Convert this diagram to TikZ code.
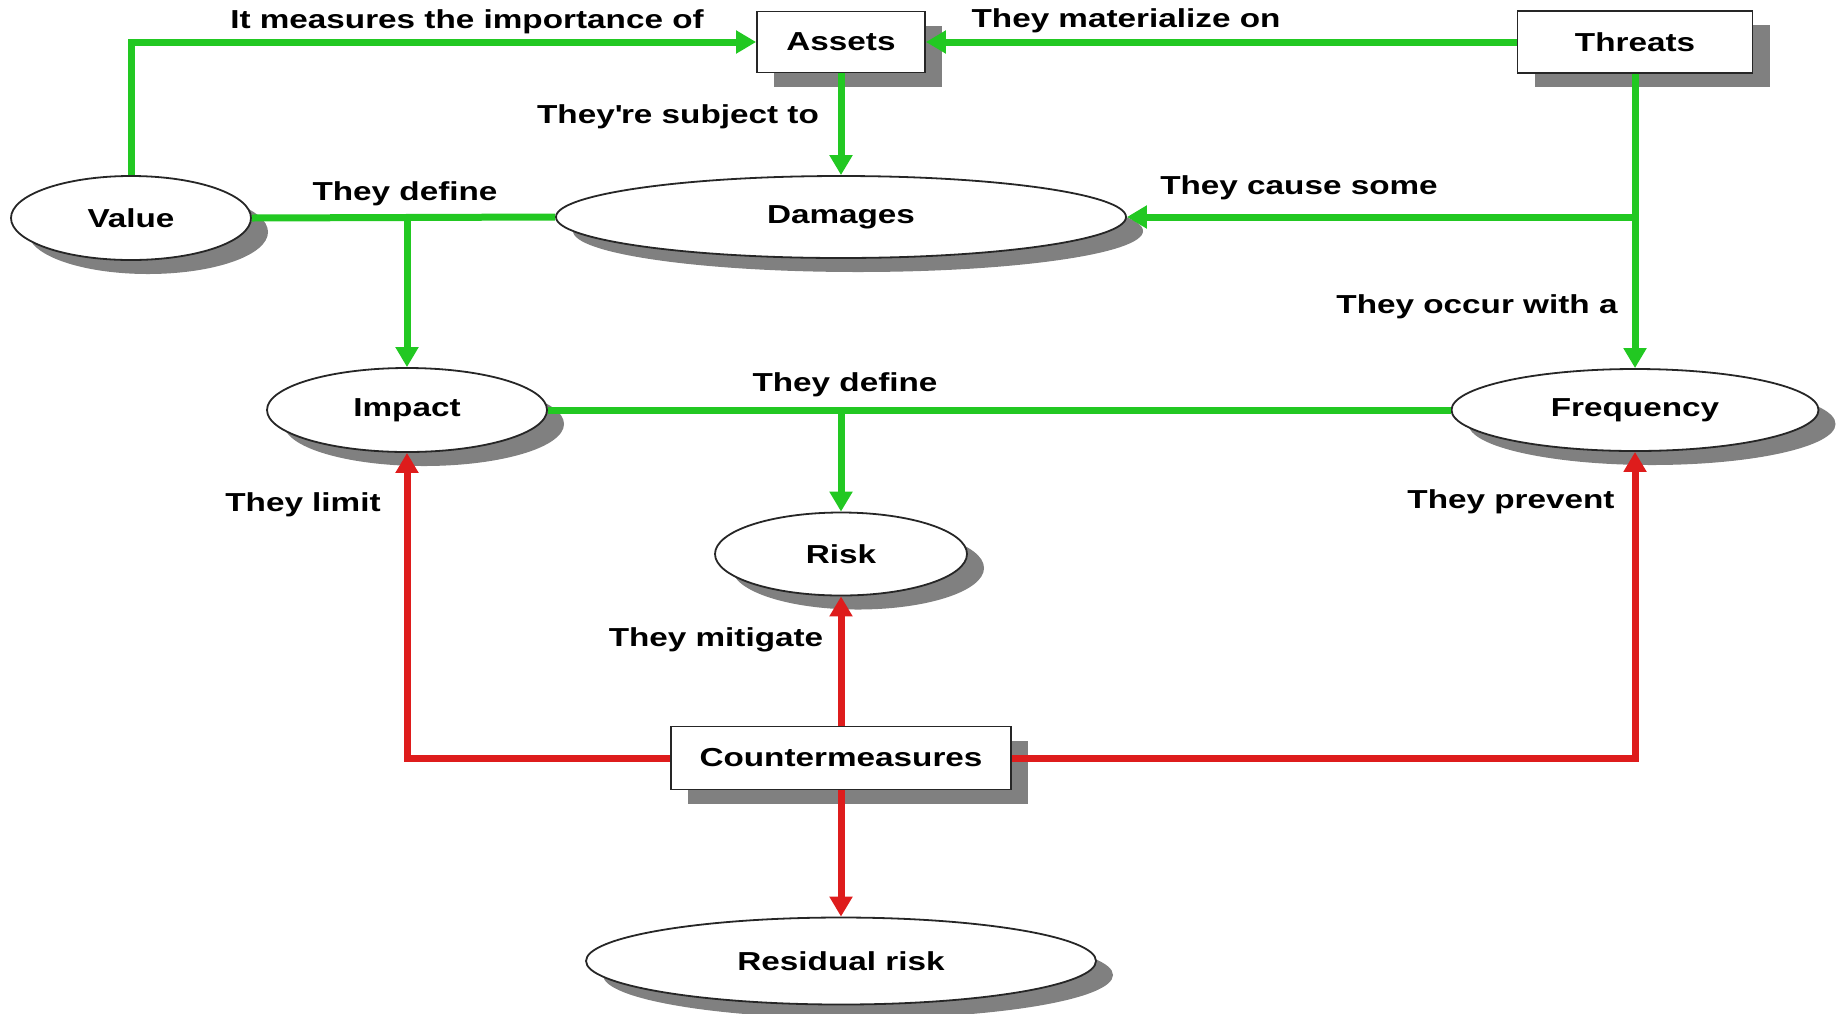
\documentclass[tikz,border=0pt]{standalone}
\usepackage{fontspec}
\setmainfont{Liberation Sans}[FakeStretch=1.28]
\usetikzlibrary{positioning, shapes.geometric, shadows, arrows.meta}
\definecolor{linkGreen}{RGB}{34,200,34}
\definecolor{linkRed}{RGB}{222,28,28}
\definecolor{shadowGray}{RGB}{128,128,128}
\tikzstyle{diagram} = [x = 0.5pt, y = -0.5pt]
\tikzstyle{labelFont} = [font=\bfseries\fontsize{13}{15}\selectfont]
\tikzstyle{shadowStyle} = [drop shadow={shadow xshift=8.5pt, shadow yshift=-7pt, fill=shadowGray, opacity=1}]
\tikzstyle{boxStyle} = [rectangle, draw=black!85, line width=0.9pt, fill=white, shadowStyle, labelFont, inner sep=0pt]
\tikzstyle{ovalStyle} = [ellipse, draw=black!85, line width=0.9pt, fill=white, shadowStyle, labelFont, inner sep=0pt]
\tikzstyle{linkText} = [labelFont, inner sep=0pt]
\tikzstyle{linkLine} = [line width=3.5pt]
\tikzstyle{greenLink} = [linkLine, color=linkGreen, -{Triangle[length=10pt, width=11pt]}]
\tikzstyle{greenJoin} = [linkLine, color=linkGreen]
\tikzstyle{redLink} = [linkLine, color=linkRed, -{Triangle[length=10pt, width=11pt]}]

\begin{document}
\begin{tikzpicture}[diagram]
  \useasboundingbox (0,0) rectangle (1839,1013);
  % concepts
  \node [boxStyle, minimum width=84pt, minimum height=30.5pt] (assets) at (841,42) {Assets};
  \node [boxStyle, minimum width=117.5pt, minimum height=31pt] (threats) at (1635,42) {Threats};
  \node [ovalStyle, minimum width=120pt, minimum height=42pt] (value) at (131,218) {Value};
  \node [ovalStyle, minimum width=285pt, minimum height=41pt] (damages) at (841,217) {Damages};
  \node [ovalStyle, minimum width=140pt, minimum height=42pt] (impact) at (407,410) {Impact};
  \node [ovalStyle, minimum width=183.5pt, minimum height=41pt] (frequency) at (1635,410) {Frequency};
  \node [ovalStyle, minimum width=126pt, minimum height=41.5pt] (risk) at (841,554) {Risk};
  \node [boxStyle, minimum width=170pt, minimum height=31.5pt] (counter) at (841,758) {Countermeasures};
  \node [ovalStyle, minimum width=255pt, minimum height=43.5pt] (residual) at (841,961) {Residual risk};
  % green links
  \draw [greenLink] (value.north) |- (assets.west);
  \draw [greenLink] (threats.west) -- (assets.east);
  \draw [greenLink] (assets.south) -- (damages.north);
  \draw [greenLink] (threats.south) -- (frequency.north);
  \coordinate (threatsJoin) at (threats.south |- damages.east);
  \draw [greenLink] (threatsJoin) -- (damages.east);
  \draw [greenJoin] (value.east) -- (damages.west);
  \coordinate (impactJoin) at (impact.north |- damages.west);
  \draw [greenLink] (impactJoin) -- (impact.north);
  \draw [greenJoin] (impact.east) -- (frequency.west);
  \coordinate (riskJoin) at (risk.north |- impact.east);
  \draw [greenLink] (riskJoin) -- (risk.north);
  % red links
  \draw [redLink] (counter.west) -| (impact.south);
  \draw [redLink] (counter.north) -- (risk.south);
  \draw [redLink] (counter.east) -| (frequency.south);
  \draw [redLink] (counter.south) -- (residual.north);
  % link texts
  \node [linkText] (measuresText) at (467,22) {It measures the importance of};
  \node [linkText] (materializeText) at (1126,21) {They materialize on};
  \node [linkText] (subjectText) at (678,117) {They\textquotesingle re subject to};
  \node [linkText] (defineTopText) at (405,194) {They define};
  \node [linkText] (causeText) at (1299,188) {They cause some};
  \node [linkText] (occurText) at (1477,307) {They occur with a};
  \node [linkText] (defineMidText) at (845,385) {They define};
  \node [linkText] (limitText) at (303,505) {They limit};
  \node [linkText] (preventText) at (1511,502) {They prevent};
  \node [linkText] (mitigateText) at (716,640) {They mitigate};
\end{tikzpicture}
\end{document}
